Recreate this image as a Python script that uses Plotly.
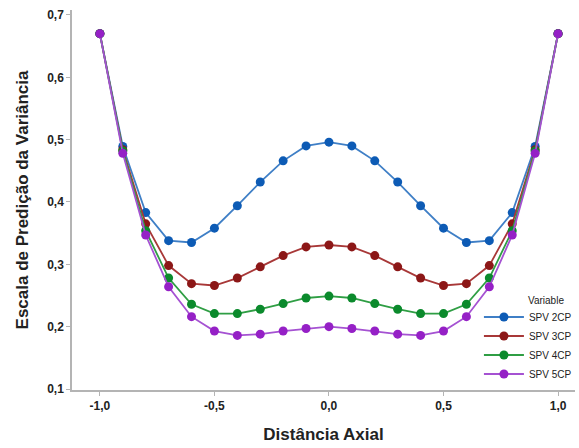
import plotly.graph_objects as go

# Axial distance positions
distancia = [-1.0, -0.9, -0.8, -0.7, -0.6, -0.5, -0.4, -0.3, -0.2, -0.1, 0.0,
             0.1, 0.2, 0.3, 0.4, 0.5, 0.6, 0.7, 0.8, 0.9, 1.0]

# Scaled prediction variance for each design
spv_2cp = [0.670, 0.489, 0.383, 0.338, 0.335, 0.358, 0.394, 0.432, 0.466, 0.490, 0.496,
           0.490, 0.466, 0.432, 0.394, 0.358, 0.335, 0.338, 0.383, 0.489, 0.670]
spv_3cp = [0.670, 0.484, 0.365, 0.298, 0.269, 0.266, 0.278, 0.296, 0.314, 0.328, 0.331,
           0.328, 0.314, 0.296, 0.278, 0.266, 0.269, 0.298, 0.365, 0.484, 0.670]
spv_4cp = [0.670, 0.482, 0.354, 0.278, 0.236, 0.221, 0.221, 0.228, 0.237, 0.246, 0.249,
           0.246, 0.237, 0.228, 0.221, 0.221, 0.236, 0.278, 0.354, 0.482, 0.670]
spv_5cp = [0.670, 0.478, 0.347, 0.264, 0.216, 0.193, 0.186, 0.188, 0.193, 0.197, 0.200,
           0.197, 0.193, 0.188, 0.186, 0.193, 0.216, 0.264, 0.347, 0.478, 0.670]

series_names = ["SPV 2CP", "SPV 3CP", "SPV 4CP", "SPV 5CP"]
series_values = [spv_2cp, spv_3cp, spv_4cp, spv_5cp]
line_colors = ["#3f7fc6", "#a83838", "#2f9e44", "#a552d2"]
marker_colors = ["#0d5bb5", "#8c1717", "#0b8a2c", "#9520c6"]

x_ticks = [-1.0, -0.5, 0.0, 0.5, 1.0]
x_ticklabels = ["-1,0", "-0,5", "0,0", "0,5", "1,0"]
y_ticks = [0.1, 0.2, 0.3, 0.4, 0.5, 0.6, 0.7]
y_ticklabels = ["0,1", "0,2", "0,3", "0,4", "0,5", "0,6", "0,7"]

fig = go.Figure()
for name, vals, lc, mc in zip(series_names, series_values, line_colors, marker_colors):
    fig.add_trace(go.Scatter(
        x=distancia, y=vals, name=name, mode="lines+markers",
        line=dict(color=lc, width=1.8),
        marker=dict(color=mc, size=9),
    ))

FONT = "Liberation Sans, Arial, sans-serif"
tick_font = dict(family=FONT, size=12, color="#222222", weight="bold")

fig.update_layout(
    width=579, height=448,
    paper_bgcolor="white", plot_bgcolor="white",
    margin=dict(l=72, r=2, t=10, b=58),
    font=dict(family=FONT),
    showlegend=True,
    legend=dict(
        x=0.809, y=0.2303, xanchor="left", yanchor="top",
        bgcolor="rgba(255,255,255,0)",
        font=dict(size=10, color="#222222"),
        itemwidth=40, tracegroupgap=0,
    ),
    annotations=[dict(
        text="Variable", xref="paper", yref="paper", x=0.902, y=0.2368,
        xanchor="left", yanchor="middle", showarrow=False,
        font=dict(size=10, color="#222222"),
    )],
)

fig.update_xaxes(
    range=[-1.1217, 1.074],
    tickvals=x_ticks, ticktext=x_ticklabels, tickfont=tick_font,
    showline=True, linecolor="#b4b4b4", linewidth=1.5,
    ticks="outside", tickcolor="#b4b4b4", ticklen=4,
    showgrid=False, zeroline=False,
    title=dict(text="<b>Distância Axial</b>", font=dict(size=17, color="#222222"), standoff=16),
)
fig.update_yaxes(
    range=[0.0984, 0.708],
    tickvals=y_ticks, ticktext=y_ticklabels, tickfont=tick_font,
    showline=True, linecolor="#b4b4b4", linewidth=1.5,
    ticks="outside", tickcolor="#b4b4b4", ticklen=4,
    showgrid=False, zeroline=False,
    title=dict(text="<b>Escala de Predição da Variância</b>", font=dict(size=17, color="#222222"), standoff=14),
)

fig.write_html("out.html")
